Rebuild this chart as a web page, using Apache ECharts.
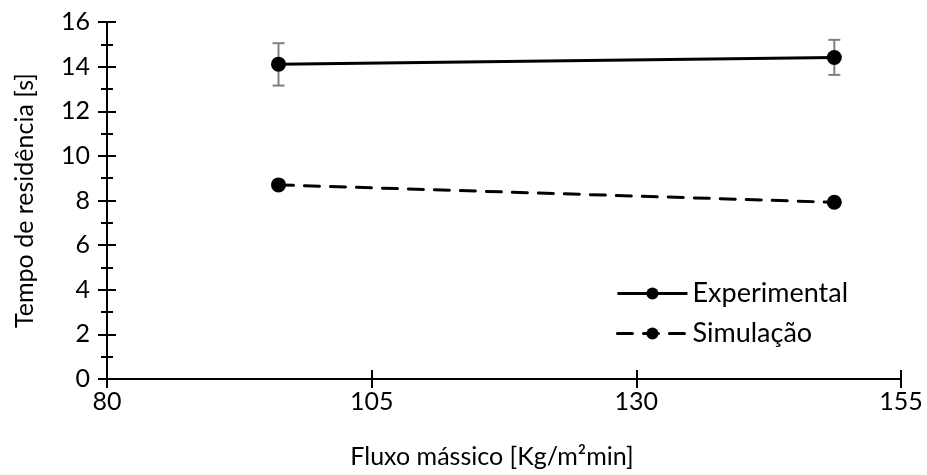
<!DOCTYPE html>
<html>
<head>
<meta charset="utf-8">
<script src="https://cdn.jsdelivr.net/npm/echarts@6/dist/echarts.min.js"></script>
<style>
  html, body { margin: 0; padding: 0; background: #fff; }
  #chart { width: 927px; height: 475px; }
</style>
</head>
<body>
<div id="chart"></div>
<script>
// Mass flux [Kg/m²min] at which each residence time was measured
const massFlux = [96.2, 148.7];
// Residence time [s]
const experimental = [14.11, 14.41];
const simulation = [8.70, 7.92];
// Experimental spread (lower / upper bound)
const expLow = [13.15, 13.63];
const expHigh = [15.05, 15.20];

const FONT = 'Lato';
const TXT = '#000';

const expData = massFlux.map((x, i) => [x, experimental[i]]);
const simData = massFlux.map((x, i) => [x, simulation[i]]);
const errData = massFlux.map((x, i) => [x, expLow[i], expHigh[i]]);

const chart = echarts.init(document.getElementById('chart'), null, { renderer: 'canvas' });

const baseX = {
  type: 'value', min: 80, max: 155, interval: 25,
  splitLine: { show: false }
};
const baseY = {
  type: 'value', min: 0, max: 16, interval: 2,
  splitLine: { show: false }
};

chart.setOption({
  animation: false,
  backgroundColor: '#fff',
  grid: { left: 107, right: 26, top: 22, bottom: 96, containLabel: false },
  xAxis: [
    Object.assign({}, baseX, {
      name: 'Fluxo mássico [Kg/m²min]',
      nameLocation: 'middle',
      nameGap: 65,
      nameTextStyle: { fontFamily: FONT, fontSize: 25, color: TXT, padding: [0, 24, 0, 0] },
      axisLine: { show: true, lineStyle: { color: '#000', width: 2 } },
      axisTick: { show: true, inside: false, length: 9, lineStyle: { color: '#000', width: 2 } },
      axisLabel: { fontFamily: FONT, fontSize: 25, color: TXT, margin: 10 }
    }),
    Object.assign({}, baseX, {
      position: 'bottom',
      axisLine: { show: false },
      axisTick: { show: true, inside: true, length: 9, lineStyle: { color: '#000', width: 2 } },
      axisLabel: { show: false }
    })
  ],
  yAxis: [
    Object.assign({}, baseY, {
      name: 'Tempo de residência [s]',
      nameLocation: 'middle',
      nameGap: 70,
      nameTextStyle: { fontFamily: FONT, fontSize: 25, color: TXT },
      axisLine: { show: true, lineStyle: { color: '#000', width: 2 } },
      axisTick: { show: true, inside: false, length: 9, lineStyle: { color: '#000', width: 2 } },
      minorTick: { show: true, splitNumber: 2, length: 6, lineStyle: { color: '#000', width: 2 } },
      axisLabel: { fontFamily: FONT, fontSize: 25, color: TXT, margin: 17 }
    }),
    Object.assign({}, baseY, {
      position: 'left',
      axisLine: { show: false },
      axisTick: { show: true, inside: true, length: 9, lineStyle: { color: '#000', width: 2 } },
      minorTick: { show: true, splitNumber: 2, length: 6, lineStyle: { color: '#000', width: 2 } },
      axisLabel: { show: false }
    })
  ],
  legend: {
    right: 74,
    top: 275,
    orient: 'vertical',
    itemWidth: 70,
    itemHeight: 15,
    itemGap: 13,
    lineStyle: { width: 3 },
    textStyle: { fontFamily: FONT, fontSize: 27, color: TXT, padding: [0, 0, 0, 0] },
    data: ['Experimental', 'Simulação']
  },
  series: [
    {
      name: 'Experimental',
      type: 'line',
      data: expData,
      symbol: 'circle',
      symbolSize: 15,
      itemStyle: { color: '#000' },
      lineStyle: { color: '#000', width: 3, type: 'solid' },
      z: 3
    },
    {
      name: 'Simulação',
      type: 'line',
      data: simData,
      symbol: 'circle',
      symbolSize: 15,
      itemStyle: { color: '#000' },
      lineStyle: { color: '#000', width: 3, type: [15, 11], cap: 'round' },
      z: 3
    },
    {
      name: 'spread',
      type: 'custom',
      data: errData,
      z: 2,
      renderItem: function (params, api) {
        const x = api.value(0);
        const lo = api.coord([x, api.value(1)]);
        const hi = api.coord([x, api.value(2)]);
        const half = 6;
        const style = { stroke: '#808080', lineWidth: 2, fill: null };
        return {
          type: 'group',
          children: [
            { type: 'line', shape: { x1: lo[0], y1: lo[1], x2: hi[0], y2: hi[1] }, style: style },
            { type: 'line', shape: { x1: hi[0] - half, y1: hi[1], x2: hi[0] + half, y2: hi[1] }, style: style },
            { type: 'line', shape: { x1: lo[0] - half, y1: lo[1], x2: lo[0] + half, y2: lo[1] }, style: style }
          ]
        };
      }
    }
  ]
});
</script>
</body>
</html>
